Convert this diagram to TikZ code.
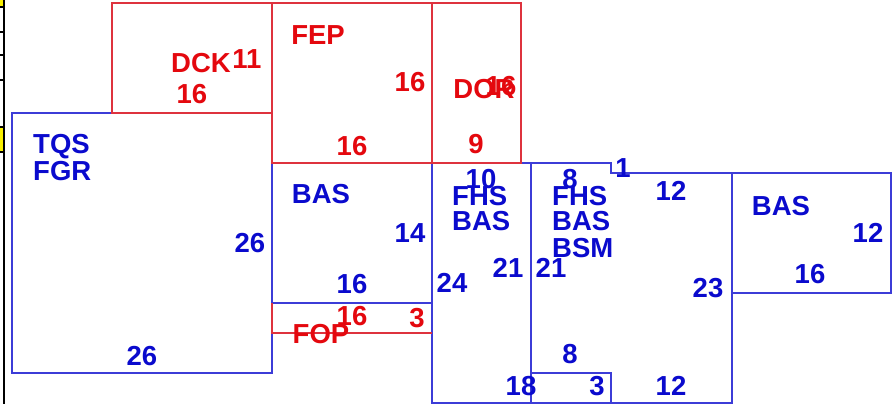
\documentclass[tikz,border=0pt]{standalone}
\usepackage{fontspec}
\setmainfont{Liberation Sans}
\definecolor{lred}{RGB}{222,50,62}
\definecolor{tred}{RGB}{228,8,14}
\definecolor{lblue}{RGB}{60,60,215}
\definecolor{tblue}{RGB}{10,10,205}
\definecolor{cellyellow}{RGB}{250,240,0}
\tikzset{
  bl/.style={draw=lblue,line width=1.3pt},
  rd/.style={draw=lred,line width=1.3pt},
  lab/.style={font=\fontsize{27.5}{29}\selectfont\bfseries,inner sep=0pt,anchor=base},
  rlab/.style={lab,text=tred},
  blab/.style={lab,text=tblue},
  blabw/.style={blab,anchor=base west},
}
\begin{document}
\begin{tikzpicture}[x=1pt,y=-1pt]
\useasboundingbox (0,0) rectangle (896,404);
\fill[white] (0,0) rectangle (896,404);
% left table strip
\fill[cellyellow] (0,0) rectangle (4,7);
\fill[cellyellow] (0,127) rectangle (4,152);
\draw[black,line width=1.4pt] (4,0) -- (4,404);
\foreach \yy in {7,32,55,80,127,152} \draw[black,line width=1.2pt] (0,\yy) -- (4,\yy);
% blue rooms
\draw[bl] (12,113) rectangle (272,373);
\draw[bl] (272,163) rectangle (432,303);
\draw[bl] (432,163) rectangle (531,403);
\draw[bl] (531,163) -- (611,163) -- (611,173) -- (732,173) -- (732,403) -- (531,403) -- cycle;
\draw[bl] (531,373) -- (611,373) -- (611,403);
\draw[bl] (732,173) rectangle (891,293);
% red rooms
\draw[rd] (112,113) -- (112,3) -- (272,3) -- (272,113) -- cycle;
\draw[rd] (272,3) rectangle (432,163);
\draw[rd] (432,3) rectangle (521,163);
\draw[rd] (272,303) -- (272,333) -- (432,333);
% red labels
\node[rlab] (dck) at (201,72) {DCK};
\node[rlab] (dck11) at (247,68) {11};
\node[rlab] (dck16) at (192,103) {16};
\node[rlab] (fep) at (318,45) {FEP};
\node[rlab] (fep16a) at (410,92) {16};
\node[rlab] (fep16b) at (352,155) {16};
\node[rlab] (dor) at (484,98) {DOR};
\node[rlab] (dor16) at (501,95) {16};
\node[rlab] (dor9) at (476,153) {9};
\node[rlab] (fop16) at (352,325) {16};
\node[rlab] (fop3) at (417,327) {3};
\node[rlab] (fop) at (321,343) {FOP};
% blue labels
\node[blabw] (tqs) at (33,153) {TQS};
\node[blabw] (fgr) at (33,180) {FGR};
\node[blab] (tqs26a) at (250,252) {26};
\node[blab] (tqs26b) at (142,365) {26};
\node[blab] (bas1) at (321,203) {BAS};
\node[blab] (bas14) at (410,242) {14};
\node[blab] (bas16) at (352,293) {16};
\node[blab] (c10) at (481,188) {10};
\node[blabw] (fhs1) at (452,205) {FHS};
\node[blabw] (bas2) at (452,230) {BAS};
\node[blab] (c21a) at (508,277) {21};
\node[blab] (c24) at (452,292) {24};
\node[blab] (c18) at (521,395) {18};
\node[blab] (d8a) at (570,188) {8};
\node[blabw] (fhs2) at (552,205) {FHS};
\node[blabw] (bas3) at (552,230) {BAS};
\node[blabw] (bsm) at (552,257) {BSM};
\node[blab] (d21) at (551,277) {21};
\node[blab] (d1) at (623,177) {1};
\node[blab] (d12a) at (671,200) {12};
\node[blab] (d23) at (708,297) {23};
\node[blab] (d8b) at (570,363) {8};
\node[blab] (d3) at (597,395) {3};
\node[blab] (d12b) at (671,395) {12};
\node[blab] (bas4) at (781,215) {BAS};
\node[blab] (e12) at (868,242) {12};
\node[blab] (e16) at (810,283) {16};
\end{tikzpicture}
\end{document}
